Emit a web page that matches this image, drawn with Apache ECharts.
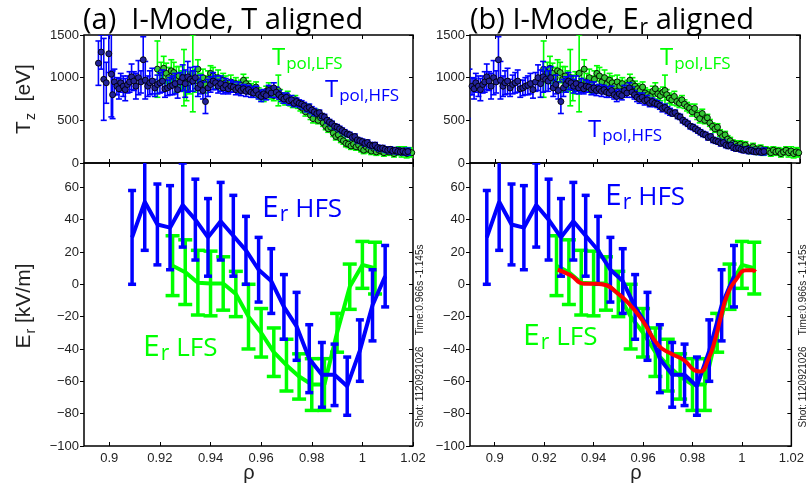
<!DOCTYPE html>
<html><head><meta charset="utf-8">
<script src="https://cdn.jsdelivr.net/npm/echarts@6/dist/echarts.min.js"></script>
<style>html,body{margin:0;padding:0;background:#fff}#c{width:807px;height:489px}</style>
</head><body><div id="c"></div>
<script>
// ---------------- DATA ----------------
const xTicks = [0.9, 0.92, 0.94, 0.96, 0.98, 1.0, 1.02];
const hfsShiftErAligned = -0.0122; // HFS profile shift used in panel (b)

// T_pol,HFS (panel a, T aligned)
const rhoTHfs = [0.8957,0.8968,0.8978,0.8988,0.8998,0.9008,0.9013,0.9020,0.9030,0.9038,0.9045,0.9055,0.9063,0.9072,0.9080,0.9088,0.9097,0.9105,0.9115,0.9125,0.9134,0.9142,0.9152,0.9160,0.9170,0.9180,0.9190,0.9200,0.9210,0.9220,0.9230,0.9240,0.9250,0.9260,0.9270,0.9280,0.9290,0.9300,0.9310,0.9320,0.9330,0.9340,0.9350,0.9360,0.9370,0.9380,0.9390,0.9400,0.9410,0.9420,0.9430,0.9440,0.9450,0.9460,0.9470,0.9480,0.9490,0.9500,0.9510,0.9520,0.9530,0.9540,0.9550,0.9560,0.9570,0.9580,0.9590,0.9600,0.9610,0.9620,0.9630,0.9640,0.9650,0.9660,0.9670,0.9680,0.9690,0.9700,0.9710,0.9720,0.9730,0.9740,0.9750,0.9760,0.9770,0.9780,0.9790,0.9800,0.9810,0.9820,0.9830,0.9840,0.9850,0.9860,0.9870,0.9880,0.9890,0.9900,0.9910,0.9920,0.9930,0.9940,0.9950,0.9960,0.9970,0.9980,0.9990,1.0000,1.0010,1.0020,1.0030,1.0040,1.0050,1.0060,1.0070,1.0080,1.0090,1.0100,1.0110,1.0120,1.0130,1.0140,1.0150,1.0160,1.0170,1.0180];
const tHfs = [1170,1300,980,940,1280,1040,800,950,900,870,940,900,860,920,950,1010,960,900,1000,950,1210,970,900,940,960,880,920,940,960,870,880,900,910,930,860,950,1000,930,1010,980,960,1000,880,920,850,720,880,920,960,940,900,930,880,910,870,900,890,860,880,850,870,840,860,830,820,850,800,780,810,790,850,820,880,830,800,770,750,770,730,740,700,720,700,690,670,640,650,620,600,580,590,550,540,500,480,460,430,420,400,380,360,340,330,300,310,270,260,250,230,240,210,200,210,180,170,175,160,150,160,140,150,135,130,140,125,135];
const tHfsErr = [260,200,480,240,220,500,280,150,100,120,110,120,130,100,120,150,110,150,200,130,270,220,120,140,150,100,110,120,130,100,90,100,110,120,100,110,150,160,180,140,120,130,100,110,100,140,100,90,100,80,80,90,70,80,60,70,60,60,70,60,50,60,50,60,50,50,50,60,50,50,60,50,60,60,50,50,50,50,50,50,40,40,40,40,40,40,40,40,40,30,30,30,30,30,30,30,30,30,30,30,30,30,30,30,30,30,30,30,30,30,30,30,30,30,30,30,30,30,30,30,30,30,30,30,30,40,40,40];

// T_pol,LFS
const rhoTLfs = [0.9190,0.9205,0.9215,0.9225,0.9235,0.9245,0.9255,0.9265,0.9275,0.9285,0.9295,0.9305,0.9315,0.9330,0.9340,0.9350,0.9360,0.9370,0.9380,0.9390,0.9400,0.9410,0.9420,0.9430,0.9440,0.9450,0.9460,0.9470,0.9480,0.9490,0.9500,0.9510,0.9520,0.9530,0.9540,0.9550,0.9560,0.9570,0.9580,0.9590,0.9600,0.9610,0.9620,0.9630,0.9640,0.9650,0.9660,0.9668,0.9675,0.9685,0.9695,0.9705,0.9715,0.9725,0.9735,0.9745,0.9755,0.9765,0.9775,0.9785,0.9795,0.9805,0.9815,0.9825,0.9835,0.9845,0.9855,0.9865,0.9875,0.9885,0.9895,0.9905,0.9915,0.9925,0.9935,0.9945,0.9955,0.9965,0.9975,0.9985,0.9995,1.0005,1.0015,1.0025,1.0035,1.0045,1.0055,1.0065,1.0075,1.0085,1.0095,1.0105,1.0115,1.0125,1.0135,1.0145,1.0155,1.0165,1.0175,1.0185,1.0195];
const tLfs = [1100,1060,1110,1050,1000,1080,1060,980,1020,960,1000,880,940,1050,960,1100,950,1000,920,980,1050,1020,950,1000,930,970,940,900,950,900,930,880,910,970,930,900,870,850,890,820,800,780,840,870,810,790,830,850,800,760,740,780,720,700,740,690,660,640,600,640,560,520,580,500,530,470,430,400,420,350,310,330,280,260,230,220,200,220,190,210,170,150,190,160,140,170,130,150,140,120,150,130,140,110,130,150,120,140,110,130,120];
const tLfsErr = [330,120,140,120,120,130,120,150,110,120,330,150,130,450,130,110,100,100,100,100,90,100,80,90,80,80,80,70,80,70,70,70,60,70,70,60,60,60,60,60,60,60,60,70,60,60,60,180,60,60,60,60,50,50,50,50,50,50,50,50,50,50,50,40,40,40,40,40,40,40,40,40,40,40,40,40,40,40,40,40,40,40,40,40,40,40,40,40,40,40,40,40,40,40,40,40,50,50,50,50,50];

// E_r HFS (panel a coordinates)
const rhoErHfs = [0.909,0.914,0.919,0.924,0.929,0.934,0.939,0.944,0.949,0.954,0.959,0.964,0.969,0.974,0.979,0.984,0.989,0.994,0.999,1.004,1.009];
const erHfs    = [29,51,37,35,49,40,29,39,30,21,9,2,-14,-26,-46,-56,-56,-63,-41,-13,5];
const erHfsErr = [29,30,25,26,26,25,24,24,25,21,20,20,20,21,21,20,19,18,19,22,19];

// E_r LFS
const rhoErLfs = [0.925,0.930,0.935,0.940,0.945,0.950,0.955,0.960,0.965,0.970,0.975,0.980,0.985,0.990,0.995,1.000,1.005];
const erLfs    = [11.5,7.5,1,0.5,0.5,-6,-20,-30,-42,-50,-57,-62,-62,-30,-1.5,12,10];
const erLfsErr = [18.5,20,20,20,16.5,14,20,15,15,16,14,16,16,12,14,14.5,16];

// red fit (panel b)
const rhoFit = [0.9255,0.9307,0.9360,0.9412,0.9452,0.9491,0.9543,0.9596,0.9662,0.9714,0.9767,0.9806,0.9832,0.9865,0.9890,0.9915,0.9940,0.9977,1.0016,1.0042,1.0055];
const erFit  = [9,5.6,0.4,0.4,-0.6,-4.8,-12,-22,-37.7,-43,-47,-53,-54,-46,-35,-20,-7,3,8.7,8.7,7.7];

const shotText = 'Shot: 1120921026    Time:0.966s -1.145s';

// ---------------- STYLE ----------------
const BLUE = '#0000ff', GREEN = '#00ff00', RED = '#ff0000';
const SANS = '"Liberation Sans", Arial, sans-serif';
const HUM = '"Open Sans", sans-serif';

const measureCtx = document.createElement('canvas').getContext('2d');
function textW(str, size, family){ measureCtx.font = size + 'px ' + family; return measureCtx.measureText(str).width; }
function compound(x, baseY, pieces, color, family, opts){
  opts = opts || {};
  let total = 0; pieces.forEach(p => { total += textW(p.text, p.size, family) + (p.dx||0); });
  let cx = opts.center ? -total/2 : 0;
  const children = [];
  pieces.forEach(p => {
    cx += (p.dx||0);
    children.push({type:'text', x: cx, y: -0.3*p.size + (p.dy||0), silent:true,
      style:{text:p.text, font: p.size + 'px ' + family, fill: color,
        align:'left', verticalAlign:'middle', textAlign:'left', textVerticalAlign:'middle'}});
    cx += textW(p.text, p.size, family);
  });
  return {type:'group', x: x, y: baseY, rotation: opts.rotation || 0, children: children};
}

function errRender(capHalf, color, width){
  return function(params, api){
    const x = api.value(0), y = api.value(1), e = api.value(2);
    const a = api.coord([x, y + e]), b = api.coord([x, y - e]);
    const st = {stroke: color, lineWidth: width};
    return {type:'group', children:[
      {type:'line', shape:{x1:a[0], y1:a[1], x2:b[0], y2:b[1]}, style: st},
      {type:'line', shape:{x1:a[0]-capHalf, y1:a[1], x2:a[0]+capHalf, y2:a[1]}, style: st},
      {type:'line', shape:{x1:b[0]-capHalf, y1:b[1], x2:b[0]+capHalf, y2:b[1]}, style: st}
    ]};
  };
}
function triples(xs, ys, es, shift){ return xs.map((r,i) => [r + (shift||0), ys[i], es[i]]); }
function pairs(xs, ys, shift){ return xs.map((r,i) => [r + (shift||0), ys[i]]); }

const grids = [
  {left:84, top:35, width:329, height:128},
  {left:84, top:163, width:329, height:283},
  {left:470, top:35, width:330, height:128},
  {left:470, top:163, width:330, height:283}
].map(g => Object.assign({show:true, borderColor:'#000', borderWidth:1.5, backgroundColor:'transparent'}, g));

const xAxes = [], yAxes = [];
for (let g = 0; g < 4; g++){
  const isEr = (g === 1 || g === 3);
  xAxes.push({type:'value', gridIndex:g, position:'bottom', min:0.89, max:1.02,
    axisLine:{show:false, onZero:false}, splitLine:{show:false},
    axisTick:{show:true, inside:true, length:4, customValues:xTicks, lineStyle:{color:'#000', width:1}},
    axisLabel:{show:isEr, customValues:xTicks, color:'#222', fontSize:13, fontFamily:SANS, margin:6,
      formatter: v => String(+(+v).toFixed(2))}});
  xAxes.push({type:'value', gridIndex:g, position:'top', min:0.89, max:1.02,
    axisLine:{show:false, onZero:false}, splitLine:{show:false},
    axisTick:{show:true, inside:true, length:4, customValues:xTicks, lineStyle:{color:'#000', width:1}},
    axisLabel:{show:false}});
  const yr = isEr ? {min:-100, max:75, interval:20} : {min:0, max:1500, interval:500};
  yAxes.push(Object.assign({type:'value', gridIndex:g, position:'left',
    axisLine:{show:false, onZero:false}, splitLine:{show:false},
    axisTick:{show:true, inside:false, length:4, lineStyle:{color:'#000', width:1}},
    axisLabel:{color:'#222', fontSize:13, fontFamily:SANS, margin:5, showMaxLabel: !isEr,
      formatter: v => String(v).replace('-', '\u2212')}}, yr));
  yAxes.push(Object.assign({type:'value', gridIndex:g, position:'right',
    axisLine:{show:false, onZero:false}, splitLine:{show:false},
    axisTick:{show:true, inside:true, length:4, lineStyle:{color:'#000', width:1}},
    axisLabel:{show:false}}, yr));
}

function errSeries(axisIdx, data, cap, color, width, z){
  return {type:'custom', xAxisIndex:axisIdx, yAxisIndex:axisIdx, clip:true, z:z,
    renderItem: errRender(cap, color, width), encode:{x:0, y:1}, data:data, silent:true, animation:false};
}
function scatterSeries(axisIdx, data, fill, z){
  return {type:'scatter', xAxisIndex:axisIdx, yAxisIndex:axisIdx, clip:true, z:z, symbol:'circle', symbolSize:6,
    itemStyle:{color:fill, borderColor:'#000', borderWidth:0.9, opacity:1}, data:data, silent:true, animation:false};
}
function lineSeries(axisIdx, data, color, width, z, smooth){
  return {type:'line', xAxisIndex:axisIdx, yAxisIndex:axisIdx, clip:true, z:z, symbol:'none', smooth: smooth || false,
    lineStyle:{color:color, width:width}, data:data, silent:true, animation:false};
}

const series = [];
// panel a, T
series.push(errSeries(0, triples(rhoTLfs, tLfs, tLfsErr), 3, GREEN, 1.6, 2));
series.push(scatterSeries(0, pairs(rhoTLfs, tLfs), '#34c834', 3));
series.push(errSeries(0, triples(rhoTHfs, tHfs, tHfsErr), 3, BLUE, 1.6, 4));
series.push(scatterSeries(0, pairs(rhoTHfs, tHfs), '#22229a', 5));
// panel b, T
series.push(errSeries(4, triples(rhoTLfs, tLfs, tLfsErr), 3, GREEN, 1.6, 2));
series.push(scatterSeries(4, pairs(rhoTLfs, tLfs), '#34c834', 3));
series.push(errSeries(4, triples(rhoTHfs, tHfs, tHfsErr, hfsShiftErAligned), 3, BLUE, 1.6, 4));
series.push(scatterSeries(4, pairs(rhoTHfs, tHfs, hfsShiftErAligned), '#22229a', 5));
// panel a, Er
series.push(errSeries(2, triples(rhoErLfs, erLfs, erLfsErr), 7, GREEN, 3.5, 2));
series.push(lineSeries(2, pairs(rhoErLfs, erLfs), GREEN, 4, 3));
series.push(errSeries(2, triples(rhoErHfs, erHfs, erHfsErr), 4, BLUE, 3.5, 4));
series.push(lineSeries(2, pairs(rhoErHfs, erHfs), BLUE, 4, 5));
// panel b, Er
series.push(errSeries(6, triples(rhoErLfs, erLfs, erLfsErr), 7, GREEN, 3.5, 2));
series.push(lineSeries(6, pairs(rhoErLfs, erLfs), GREEN, 4, 3));
series.push(errSeries(6, triples(rhoErHfs, erHfs, erHfsErr, hfsShiftErAligned), 4, BLUE, 3.5, 4));
series.push(lineSeries(6, pairs(rhoErHfs, erHfs, hfsShiftErAligned), BLUE, 4, 5));
series.push(lineSeries(6, pairs(rhoFit, erFit), RED, 4, 6, 0.5));

const graphics = [
  compound(83, 29, [{text:'(a)  I-Mode, T aligned', size:29}], '#000', HUM),
  compound(470, 29, [{text:'(b) I-Mode, E', size:29}, {text:'r', size:21, dy:5, dx:1}, {text:' aligned', size:29}], '#000', HUM),
  compound(272, 65, [{text:'T', size:24}, {text:'pol,LFS', size:17, dy:4, dx:1}], GREEN, HUM),
  compound(325, 97, [{text:'T', size:24}, {text:'pol,HFS', size:17, dy:4, dx:1}], BLUE, HUM),
  compound(660, 65, [{text:'T', size:24}, {text:'pol,LFS', size:17, dy:4, dx:1}], GREEN, HUM),
  compound(588, 137, [{text:'T', size:24}, {text:'pol,HFS', size:17, dy:4, dx:1}], BLUE, HUM),
  compound(262, 217, [{text:'E', size:30}, {text:'r', size:21, dy:4, dx:1}, {text:'HFS', size:26, dx:7}], BLUE, HUM),
  compound(605, 205, [{text:'E', size:30}, {text:'r', size:21, dy:4, dx:1}, {text:'HFS', size:26, dx:7}], BLUE, HUM),
  compound(143, 356, [{text:'E', size:30}, {text:'r', size:21, dy:4, dx:1}, {text:'LFS', size:26, dx:7}], GREEN, HUM),
  compound(523, 345, [{text:'E', size:30}, {text:'r', size:21, dy:4, dx:1}, {text:'LFS', size:26, dx:7}], GREEN, HUM),
  compound(31, 99, [{text:'T', size:21}, {text:'z', size:14, dy:4, dx:1}, {text:'  [eV]', size:21}], '#222', SANS, {center:true, rotation:Math.PI/2}),
  compound(31, 306, [{text:'E', size:21}, {text:'r', size:14, dy:4, dx:1}, {text:' [kV/m]', size:21}], '#222', SANS, {center:true, rotation:Math.PI/2}),
  compound(249, 479, [{text:'ρ', size:20}], '#222', SANS, {center:true}),
  compound(636, 479, [{text:'ρ', size:20}], '#222', SANS, {center:true}),
  compound(423, 336, [{text:shotText, size:10}], '#222', SANS, {center:true, rotation:Math.PI/2}),
  compound(806, 336, [{text:shotText, size:10}], '#222', SANS, {center:true, rotation:Math.PI/2})
];

const chart = echarts.init(document.getElementById('c'), null, {renderer:'canvas'});
chart.setOption({
  animation:false,
  backgroundColor:'#fff',
  grid: grids, xAxis: xAxes, yAxis: yAxes, series: series,
  graphic: {elements: graphics}
});
</script>
</body></html>
